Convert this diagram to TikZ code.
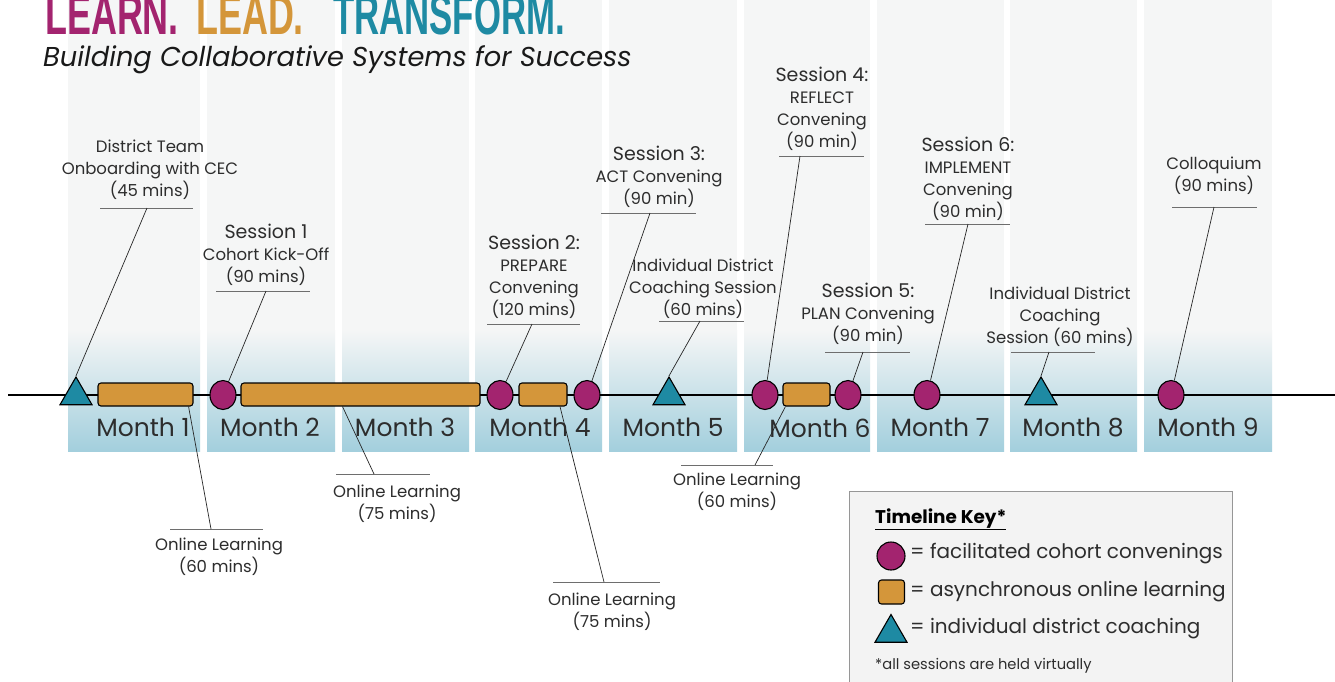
\documentclass[tikz,border=0pt]{standalone}
\usepackage{graphicx}
\usepackage{fontspec}
\setmainfont{Poppins}
\newfontfamily\titlefont{Liberation Sans}
\usetikzlibrary{shapes.geometric,calc}
\definecolor{cmag}{RGB}{163,36,111}
\definecolor{cgold}{RGB}{212,150,58}
\definecolor{cteal}{RGB}{30,138,163}
\definecolor{colbg}{RGB}{245,246,246}
\definecolor{bandblue}{RGB}{163,207,221}
\definecolor{txt}{RGB}{45,45,45}
\definecolor{ulgray}{RGB}{110,110,110}
\definecolor{keybg}{RGB}{243,243,243}
\definecolor{keyline}{RGB}{150,150,150}
\begin{document}
\begin{tikzpicture}[x=1pt,y=-1pt,
  lbl/.style={font=\fontsize{16.5}{22}\selectfont, align=center, inner sep=0pt, text=txt},
  ul/.style={draw=ulgray, line width=1pt},
  lead/.style={draw=black!85, line width=0.7pt},
  conv/.style={ellipse, draw=black, line width=1.1pt, fill=cmag, minimum width=26pt, minimum height=29pt, inner sep=0pt},
  online/.style={draw=black, line width=1.1pt, fill=cgold, rounded corners=3pt, minimum height=23pt, inner sep=0pt},
  coach/.style={regular polygon, regular polygon sides=3, draw=black, line width=1.1pt, fill=cteal, minimum size=37pt, inner sep=0pt},
  month/.style={font=\fontsize{25}{25}\selectfont, text=txt, anchor=base},
  keytxt/.style={font=\fontsize{20}{20}\selectfont, text=txt, anchor=west, inner sep=0pt},
  ttl/.style={anchor=base west, inner sep=0pt, font=\titlefont\bfseries\fontsize{57}{57}\selectfont}
]
\useasboundingbox (0,0) rectangle (1335,681);
\fill[white] (0,0) rectangle (1335,681);
% month columns
\foreach \l/\r in {68/200,207/335,342/469,475/602,609/737,744/870,877/1004,1010/1137,1144/1272}{
  \fill[colbg] (\l,0) rectangle (\r,330);
  \shade[top color=colbg, bottom color=bandblue] (\l,330) rectangle (\r,451);
}
% title
\node[ttl, text=cmag] (t1) at (45,34) {\scalebox{0.63}[1]{LEARN.}};
\node[ttl, text=cgold] (t2) at (196,34) {\scalebox{0.63}[1]{LEAD.}};
\node[ttl, text=cteal] (t3) at (333,34) {\scalebox{0.61}[1]{TRANSFORM.}};
\node[anchor=base west, inner sep=0pt, text=black!90] (sub) at (43,66) {\itshape\fontsize{27.3}{27.3}\selectfont Building Collaborative Systems for Success};
% timeline
\coordinate (tl0) at (8,395);
\coordinate (tl1) at (1335,395);
\draw[line width=1.2pt] (tl0) -- (tl1);
% month labels
\node[month] (m1) at (143,436) {Month 1};
\node[month] (m2) at (270,436) {Month 2};
\node[month] (m3) at (405,436) {Month 3};
\node[month] (m4) at (540,436) {Month 4};
\node[month] (m5) at (673,436) {Month 5};
\node[month] (m6) at (820,437) {Month 6};
\node[month] (m7) at (940,436) {Month 7};
\node[month] (m8) at (1073,436) {Month 8};
\node[month] (m9) at (1208,436) {Month 9};
% events
\node[coach] (tri1) at (76,395.5) {};
\node[online, minimum width=95pt] (r1) at (145.5,394.5) {};
\node[conv] (c1) at (223,395) {};
\node[online, minimum width=239pt] (r2) at (360.5,394.5) {};
\node[conv] (c2) at (500,395) {};
\node[online, minimum width=48pt] (r3) at (543,394.5) {};
\node[conv] (c3) at (587,395) {};
\node[coach] (tri2) at (669,395.5) {};
\node[conv] (c4) at (765,395) {};
\node[online, minimum width=47pt] (r4) at (806.5,394.5) {};
\node[conv] (c5) at (848,395) {};
\node[conv] (c6) at (927,395) {};
\node[coach] (tri3) at (1041,395.5) {};
\node[conv] (c7) at (1171,395) {};
% labels above
\node[lbl, anchor=south] (la) at (150,200) {District Team\\Onboarding with CEC\\(45 mins)};
\draw[ul] (100,208) -- (193,208); \coordinate (pa) at (147,208);
\draw[lead] (pa) -- (tri1.corner 1);
\node[lbl, anchor=south] (lb) at (266,286) {{\fontsize{19}{22}\selectfont Session 1}\\Cohort Kick-Off\\(90 mins)};
\draw[ul] (216,291) -- (310,291); \coordinate (pb) at (266,291);
\draw[lead] (pb) -- (c1);
\node[lbl, anchor=south] (lc) at (534,319) {{\fontsize{19}{22}\selectfont Session 2:}\\PREPARE\\Convening\\(120 mins)};
\draw[ul] (487,324) -- (580,324); \coordinate (pc) at (532,324);
\draw[lead] (pc) -- (c2);
\node[lbl, anchor=south] (ld) at (659,208) {{\fontsize{19}{22}\selectfont Session 3:}\\ACT Convening\\(90 min)};
\draw[ul] (601,213) -- (696,213); \coordinate (pd) at (650,213);
\draw[lead] (pd) -- (c3);
\node[lbl, anchor=south] (le) at (703,319) {Individual District\\Coaching Session\\(60 mins)};
\draw[ul] (659,321) -- (744,321); \coordinate (pe) at (700,321);
\draw[lead] (pe) -- (tri2.corner 1);
\node[lbl, anchor=south] (lf) at (822,151) {{\fontsize{19}{22}\selectfont Session 4:}\\REFLECT\\Convening\\(90 min)};
\draw[ul] (779,156) -- (864,156); \coordinate (pf) at (800,156);
\draw[lead] (pf) -- (c4);
\node[lbl, anchor=south] (lg) at (868,345) {{\fontsize{19}{22}\selectfont Session 5:}\\PLAN Convening\\(90 min)};
\draw[ul] (825,352) -- (910,352); \coordinate (pg) at (863,352);
\draw[lead] (pg) -- (c5);
\node[lbl, anchor=south] (lh) at (968,221) {{\fontsize{19}{22}\selectfont Session 6:}\\IMPLEMENT\\Convening\\(90 min)};
\draw[ul] (925,224) -- (1010,224); \coordinate (ph) at (968,224);
\draw[lead] (ph) -- (c6);
\node[lbl, anchor=south] (li) at (1060,347) {Individual District\\Coaching\\Session (60 mins)};
\draw[ul] (1011,352) -- (1095,352); \coordinate (pi) at (1049,352);
\draw[lead] (pi) -- (tri3.corner 1);
\node[lbl, anchor=south] (lj) at (1214,195) {Colloquium\\(90 mins)};
\draw[ul] (1172,207) -- (1257,207); \coordinate (pj) at (1214,207);
\draw[lead] (pj) -- (c7);
% labels below
\draw[ul] (170,529) -- (263,529); \coordinate (pk) at (211,529);
\node[lbl, anchor=north] (lk) at (219,538) {Online Learning\\(60 mins)};
\draw[lead] (pk) -- ($(r1.south east)+(-5,0)$);
\draw[ul] (336,474) -- (430,474); \coordinate (pl) at (374,474);
\node[lbl, anchor=north] (ll) at (397,485) {Online Learning\\(75 mins)};
\draw[lead] (pl) -- ($(r2.south)+(-18,0)$);
\draw[ul] (553,582) -- (660,582); \coordinate (pm) at (604,582);
\node[lbl, anchor=north] (lm) at (612,593) {Online Learning\\(75 mins)};
\draw[lead] (pm) -- ($(r3.south)+(17,0)$);
\draw[ul] (681,465) -- (773,465); \coordinate (pn) at (755,465);
\node[lbl, anchor=north] (ln) at (737,473) {Online Learning\\(60 mins)};
\draw[lead] (pn) -- ($(r4.south west)+(3,0)$);
% key
\node[draw=keyline, fill=keybg, line width=1.2pt, minimum width=383pt, minimum height=200pt, anchor=north west, inner sep=0pt] (key) at (849,491) {};
\node[anchor=base west, inner sep=0pt, text=black, font=\fontsize{18.4}{18.4}\selectfont\bfseries] (kt) at (875,523) {\underline{Timeline Key*}};
\node[conv, minimum width=28pt, minimum height=28pt] (kc) at (891,556) {};
\node[keytxt] (kct) at (910,554) {= facilitated cohort convenings};
\node[online, minimum width=26pt, minimum height=24pt] (kr) at (891.5,592) {};
\node[keytxt] (krt) at (910,592) {= asynchronous online learning};
\node[coach] (ktri) at (891,633) {};
\node[keytxt] (ktt) at (910,629) {= individual district coaching};
\node[anchor=base west, inner sep=0pt, text=txt, font=\fontsize{14.7}{14.7}\selectfont] (kf) at (875,669) {*all sessions are held virtually};
\end{tikzpicture}
\end{document}
